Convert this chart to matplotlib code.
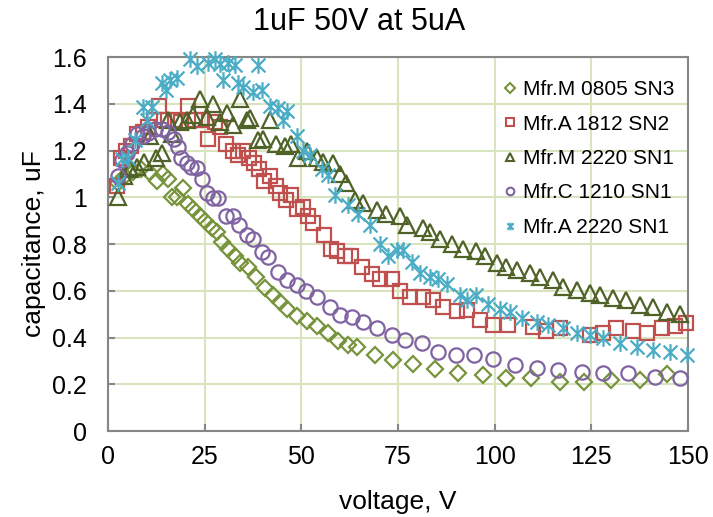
import matplotlib
matplotlib.use("Agg")
import matplotlib.pyplot as plt
from matplotlib.path import Path
from matplotlib.lines import Line2D

plt.rcParams['font.family'] = ['Liberation Sans', 'DejaVu Sans']

title = "1uF 50V at 5uA"
xlabel = "voltage, V"
ylabel = "capacitance, uF"
labels = ["Mfr.M 0805 SN3", "Mfr.A 1812 SN2", "Mfr.M 2220 SN1", "Mfr.C 1210 SN1", "Mfr.A 2220 SN1"]
xticks = [0, 25, 50, 75, 100, 125, 150]
yticks = [0, 0.2, 0.4, 0.6, 0.8, 1.0, 1.2, 1.4, 1.6]
ytick_labels = ["0", "0.2", "0.4", "0.6", "0.8", "1", "1.2", "1.4", "1.6"]

v_m0805 = [2.5, 4.5, 6.5, 8.5, 10.5, 12.7, 14.2, 15.6, 16.6, 17.8,
           19.4, 20.8, 22.1, 23.8, 25.1, 26.8, 28.1, 29.6, 31.1, 32.8,
           34.1, 36.3, 38.4, 40.6, 42.7, 44.5, 46.2, 48.8, 51.4, 54.0,
           56.8, 59.6, 62.0, 64.3, 69.0, 73.8, 79.0, 84.6, 90.6, 97.0,
           103.0, 109.5, 117.0, 123.0, 130.0, 137.6, 144.5]
c_m0805 = [1.06, 1.09, 1.11, 1.12, 1.11, 1.07, 1.10, 1.08, 1.00, 1.00,
           1.04, 0.97, 0.95, 0.92, 0.90, 0.87, 0.85, 0.81, 0.78, 0.75,
           0.72, 0.70, 0.66, 0.61, 0.58, 0.55, 0.52, 0.49, 0.47, 0.45,
           0.42, 0.385, 0.37, 0.36, 0.325, 0.304, 0.285, 0.265, 0.247, 0.238,
           0.228, 0.228, 0.21, 0.21, 0.22, 0.22, 0.245]

v_a1812 = [2.4, 3.3, 4.6, 6.0, 7.4, 9.0, 10.4, 12.0, 13.3, 14.6,
           17.3, 19.0, 20.8, 22.5, 24.2, 25.9, 27.7, 29.0, 30.5, 32.2,
           33.5, 35.0, 36.5, 37.8, 39.0, 40.4, 42.0, 43.4, 44.6, 46.0,
           47.3, 49.0, 50.5, 51.6, 53.0, 55.8, 57.8, 59.3, 61.3, 62.8,
           65.6, 68.2, 70.3, 73.4, 75.5, 78.1, 81.5, 84.1, 86.7, 90.2,
           92.8, 96.2, 99.6, 103.5, 110.0, 113.4, 117.0, 124.6, 128.0, 131.5,
           135.8, 139.3, 143.2, 146.6, 149.6]
c_a1812 = [1.05, 1.17, 1.20, 1.22, 1.27, 1.28, 1.30, 1.33, 1.39, 1.33,
           1.33, 1.32, 1.39, 1.33, 1.33, 1.25, 1.32, 1.30, 1.23, 1.20,
           1.18, 1.20, 1.17, 1.145, 1.12, 1.07, 1.09, 1.05, 1.02, 0.99,
           1.01, 0.95, 0.96, 0.92, 0.89, 0.84, 0.78, 0.77, 0.75, 0.75,
           0.70, 0.67, 0.65, 0.65, 0.60, 0.575, 0.575, 0.56, 0.53, 0.515,
           0.517, 0.475, 0.453, 0.453, 0.446, 0.43, 0.44, 0.41, 0.42, 0.44,
           0.43, 0.42, 0.44, 0.45, 0.46]

v_m2220 = [2.7, 4.2, 5.8, 7.6, 9.2, 10.9, 12.4, 13.9, 15.6, 16.5,
           18.6, 20.5, 22.0, 23.8, 25.5, 27.2, 29.0, 30.7, 32.4, 34.1,
           35.9, 36.7, 38.9, 40.2, 41.9, 43.4, 45.8, 47.4, 49.2, 51.5,
           54.0, 55.7, 58.3, 60.0, 61.5, 63.9, 66.0, 69.5, 72.0, 75.5,
           77.2, 81.5, 83.3, 85.9, 88.9, 91.9, 95.3, 97.5, 100.5, 103.0,
           105.7, 109.1, 111.7, 115.2, 117.7, 121.2, 124.6, 127.2, 130.7, 134.1,
           137.6, 141.0, 144.5, 147.9]
c_m2220 = [1.00, 1.09, 1.12, 1.13, 1.15, 1.26, 1.17, 1.19, 1.33, 1.27,
           1.32, 1.33, 1.35, 1.42, 1.345, 1.40, 1.32, 1.36, 1.31, 1.42,
           1.33, 1.34, 1.245, 1.25, 1.33, 1.23, 1.22, 1.23, 1.17, 1.20,
           1.17, 1.15, 1.145, 1.10, 1.06, 0.99, 0.975, 0.945, 0.93, 0.92,
           0.88, 0.87, 0.85, 0.82, 0.80, 0.78, 0.77, 0.75, 0.72, 0.70,
           0.69, 0.675, 0.66, 0.646, 0.617, 0.603, 0.589, 0.582, 0.568, 0.56,
           0.54, 0.53, 0.51, 0.50]

v_c1210 = [2.6, 3.6, 5.0, 6.3, 7.4, 9.0, 10.4, 12.2, 13.9, 15.5,
           17.0, 18.1, 19.0, 20.4, 21.5, 22.9, 24.2, 25.7, 27.2, 28.5,
           30.5, 32.2, 33.9, 35.9, 37.6, 39.7, 41.5, 44.0, 46.2, 48.8,
           51.2, 54.0, 57.4, 60.0, 63.0, 66.0, 69.5, 73.4, 76.8, 81.1,
           85.4, 90.0, 94.6, 99.6, 105.2, 110.9, 116.4, 122.5, 128.0, 134.5,
           141.4, 147.9]
c_c1210 = [1.09, 1.16, 1.19, 1.23, 1.27, 1.26, 1.275, 1.29, 1.29, 1.28,
           1.25, 1.215, 1.17, 1.145, 1.13, 1.124, 1.08, 1.02, 0.995, 0.995,
           0.92, 0.92, 0.88, 0.84, 0.82, 0.767, 0.746, 0.68, 0.646, 0.625,
           0.60, 0.575, 0.532, 0.496, 0.489, 0.468, 0.44, 0.41, 0.39, 0.375,
           0.34, 0.325, 0.325, 0.307, 0.282, 0.268, 0.261, 0.254, 0.247, 0.247,
           0.232, 0.225]

v_a2220 = [2.7, 3.5, 5.2, 7.0, 9.1, 10.0, 11.5, 13.9, 15.0, 16.0,
           17.8, 21.2, 22.9, 25.9, 27.7, 29.0, 29.8, 31.1, 32.8, 33.7,
           35.0, 37.6, 38.9, 39.7, 41.9, 44.0, 45.3, 46.2, 48.8, 50.5,
           52.2, 55.3, 57.0, 58.7, 62.1, 64.7, 67.8, 70.3, 72.5, 74.7,
           76.4, 78.5, 80.7, 83.3, 85.4, 87.6, 91.0, 92.8, 95.3, 98.3,
           101.4, 104.0, 107.2, 110.9, 113.9, 117.7, 121.2, 124.6, 128.0, 132.4,
           136.7, 141.0, 145.3, 149.8]
c_a2220 = [1.06, 1.165, 1.17, 1.245, 1.385, 1.33, 1.385, 1.49, 1.46, 1.50,
           1.51, 1.59, 1.56, 1.575, 1.59, 1.57, 1.50, 1.575, 1.565, 1.49,
           1.47, 1.45, 1.565, 1.46, 1.39, 1.38, 1.33, 1.37, 1.26, 1.20,
           1.18, 1.12, 1.095, 1.01, 0.965, 0.93, 0.88, 0.80, 0.75, 0.775,
           0.775, 0.725, 0.675, 0.66, 0.65, 0.63, 0.58, 0.56, 0.58, 0.545,
           0.52, 0.51, 0.485, 0.468, 0.453, 0.44, 0.418, 0.41, 0.397, 0.375,
           0.36, 0.347, 0.34, 0.325]

# Excel-like "star" marker: an X with a vertical bar
star = Path([(-1, -1), (1, 1), (-1, 1), (1, -1), (0, -1.2), (0, 1.2)],
            [Path.MOVETO, Path.LINETO, Path.MOVETO, Path.LINETO, Path.MOVETO, Path.LINETO])

series = [
    (v_m0805, c_m0805, 'D', 8.4, '#77933C'),
    (v_a1812, c_a1812, 's', 10.0, '#C0504D'),
    (v_m2220, c_m2220, '^', 12.0, '#4F6228'),
    (v_c1210, c_c1210, 'o', 10.3, '#8064A2'),
    (v_a2220, c_a2220, star, 12.0, '#4BACC6'),
]

fig = plt.figure(figsize=(7.13, 5.17), dpi=100)
ax = fig.add_axes([0.1515, 0.1663, 0.8134, 0.7234])

handles = []
for (vx, cy, mk, ms, col), lab in zip(series, labels):
    ax.plot(vx, cy, linestyle='none', marker=mk, markersize=ms,
            markerfacecolor='none', markeredgecolor=col, markeredgewidth=1.6,
            clip_on=False, zorder=3)
    handles.append(Line2D([], [], linestyle='none', marker=mk, markersize=5.5,
                          markerfacecolor='none', markeredgecolor=col,
                          markeredgewidth=1.5, label=lab))

ax.set_xlim(0, 150)
ax.set_ylim(0, 1.6)
ax.set_xticks(xticks)
ax.set_yticks(yticks)
ax.set_yticklabels(ytick_labels)
ax.grid(True, color='#D7E4BD', linewidth=1.5, zorder=0)
ax.set_axisbelow(True)
for s in ax.spines.values():
    s.set_color('#868686')
    s.set_linewidth(1.5)
ax.tick_params(axis='both', direction='in', length=5, width=1.5, color='#868686',
               labelsize=18, labelcolor='black')
ax.tick_params(axis='x', pad=10)
ax.tick_params(axis='y', pad=15)

ax.set_xlabel(xlabel, fontsize=19)
ax.set_ylabel(ylabel, fontsize=19)
ax.yaxis.set_label_coords(-0.107, 0.5)
ax.xaxis.set_label_coords(0.5, -0.158)
fig.text(0.504, 0.957, title, fontsize=22, ha='center', va='center')

leg = fig.legend(handles=handles, loc='upper left', bbox_to_anchor=(0.708, 0.845),
                 frameon=False, fontsize=15, handlelength=0.5, handletextpad=0.35,
                 labelspacing=0.74, borderpad=0, borderaxespad=0)

fig.savefig('out.png', dpi=100)
